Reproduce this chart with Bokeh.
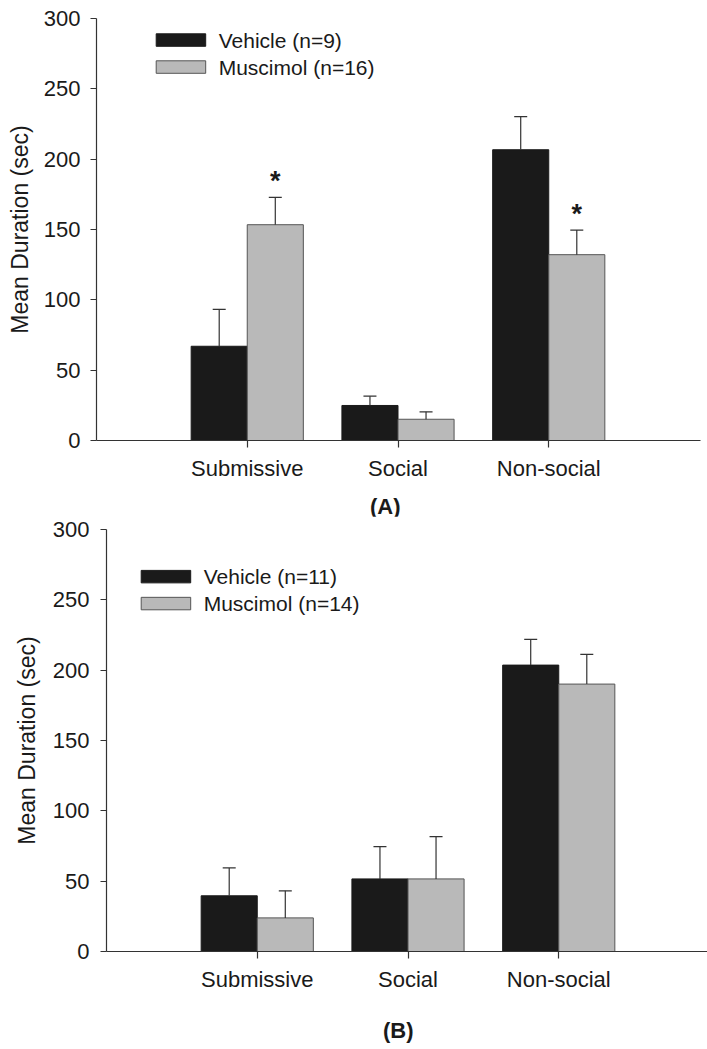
import numpy as np
from bokeh.plotting import figure
from bokeh.models import Range1d, Div, Spacer
from bokeh.layouts import column, row
from bokeh.embed import file_html
from bokeh.resources import INLINE
from bokeh.core.properties import value

# ---------------- data ----------------
categories = ["Submissive", "Social", "Non-social"]
y_ticks = [0, 50, 100, 150, 200, 250, 300]

a_vehicle_mean = [67.0, 24.9, 206.7]
a_vehicle_sem = [26.2, 6.6, 23.6]
a_muscimol_mean = [153.4, 15.1, 132.1]
a_muscimol_sem = [19.4, 5.3, 17.5]
a_muscimol_sig = [True, False, True]
a_labels = ["Vehicle (n=9)", "Muscimol (n=16)"]

b_vehicle_mean = [39.6, 51.6, 203.6]
b_vehicle_sem = [19.8, 23.0, 18.3]
b_muscimol_mean = [23.9, 51.6, 190.1]
b_muscimol_sem = [19.2, 30.1, 21.1]
b_muscimol_sig = [False, False, False]
b_labels = ["Vehicle (n=11)", "Muscimol (n=14)"]

# ---------------- style ----------------
FONT = "Liberation Sans"
FS = "22px"
LEG_FS = "21px"
YLAB_FS = "23px"
TXT = "#1a1a1a"
BLACK = "#1a1a1a"
GRAY = "#b9b9b9"
EDGE = "#555555"
ERR = "#333333"
PAGE_W = 707
UNIT_PX = 150.75
BAR_W = 0.372
CAP_PX = 13
LEFT = 96


def panel(veh_m, veh_s, mus_m, mus_s, sig, labels, x_off,
          fig_top, fig_h, top_pad, frame_h, right_pad,
          tick_std, lab_std, leg_x, leg_y):
    width = PAGE_W - x_off
    frame_w = width - LEFT - right_pad
    x_end = frame_w / UNIT_PX
    bottom_pad = fig_h - top_pad - frame_h
    p = figure(width=width, height=fig_h, output_backend="svg", toolbar_location=None,
               x_range=Range1d(0, x_end), y_range=Range1d(0, 300),
               min_border_left=LEFT, min_border_right=right_pad,
               min_border_top=top_pad, min_border_bottom=bottom_pad)
    p.outline_line_color = None
    p.grid.visible = False
    p.background_fill_color = "white"
    p.border_fill_color = "white"

    frame_left_page = x_off + LEFT
    frame_bottom_page = fig_top + top_pad + frame_h
    sy = frame_h / 300.0

    def dx(px):
        return (px - frame_left_page) / UNIT_PX

    def dy(py):
        return (frame_bottom_page - py) / sy

    idx = np.arange(1, len(categories) + 1, dtype=float)
    xv = idx - BAR_W / 2
    xm = idx + BAR_W / 2
    cap = CAP_PX / UNIT_PX

    p.vbar(x=xv, top=veh_m, width=BAR_W, bottom=0, fill_color=BLACK, line_color=BLACK, line_width=1)
    p.vbar(x=xm, top=mus_m, width=BAR_W, bottom=0, fill_color=GRAY, line_color=EDGE, line_width=1)

    for xs, m, s in ((xv, veh_m, veh_s), (xm, mus_m, mus_s)):
        m = np.array(m); s = np.array(s)
        p.segment(x0=xs, y0=m, x1=xs, y1=m + s, line_color=ERR, line_width=1.2)
        p.segment(x0=xs - cap / 2, y0=m + s, x1=xs + cap / 2, y1=m + s, line_color=ERR, line_width=1.2)

    sx = [x for x, f in zip(xm, sig) if f]
    sy_ = [m + s for m, s, f in zip(mus_m, mus_s, sig) if f]
    if sx:
        p.text(x=sx, y=sy_, text=["*"] * len(sx), text_align="center", text_baseline="alphabetic",
               y_offset=-16, text_font=value(FONT), text_font_style="bold",
               text_font_size="27px", text_color=TXT)

    # legend (drawn as boxes + text)
    for i, (lab, fc, lc) in enumerate(zip(labels, [BLACK, GRAY], [BLACK, EDGE])):
        top = leg_y + i * 27
        p.quad(left=[dx(leg_x)], right=[dx(leg_x + 49.5)], top=[dy(top)], bottom=[dy(top + 12.5)],
               fill_color=fc, line_color=lc, line_width=1)
        p.text(x=[dx(leg_x + 62.5)], y=[dy(top + 6.5)], text=[lab], text_baseline="middle",
               text_align="left", text_font=value(FONT), text_font_size=LEG_FS, text_color=TXT)

    # axes
    p.xaxis.ticker = list(idx)
    p.xaxis.major_label_overrides = {float(i): c for i, c in zip(idx, categories)}
    p.yaxis.ticker = y_ticks
    p.yaxis.axis_label = "Mean Duration (sec)"
    for ax in (p.xaxis, p.yaxis):
        ax.axis_line_color = ERR
        ax.axis_line_width = 1.2
        ax.major_tick_line_color = ERR
        ax.major_tick_line_width = 1.2
        ax.major_tick_in = 0
        ax.minor_tick_line_color = None
        ax.major_label_text_font = FONT
        ax.major_label_text_font_size = FS
        ax.major_label_text_color = TXT
        ax.axis_label_text_font = FONT
        ax.axis_label_text_font_size = YLAB_FS
        ax.axis_label_text_font_style = "normal"
        ax.axis_label_text_color = TXT
    p.xaxis.major_tick_out = 7
    p.yaxis.major_tick_out = 6
    p.xaxis.major_label_standoff = 8
    p.yaxis.major_label_standoff = tick_std
    p.yaxis.axis_label_standoff = lab_std
    return p


def letter_div(letter, height, left, center):
    html = ('<div style="position:relative;width:%dpx;height:%dpx;">'
            '<span style="position:absolute;left:%dpx;top:%dpx;line-height:22px;'
            'font-family:\'Liberation Sans\';font-weight:bold;font-size:22px;color:%s;">%s</span></div>'
            % (PAGE_W, height, left, center - 11, TXT, letter))
    return Div(text=html, width=PAGE_W, height=height, margin=0)


pA = panel(a_vehicle_mean, a_vehicle_sem, a_muscimol_mean, a_muscimol_sem, a_muscimol_sig,
           a_labels, x_off=0, fig_top=0, fig_h=485, top_pad=18, frame_h=422, right_pad=7,
           tick_std=10, lab_std=8, leg_x=155.7, leg_y=33.3)
dA = letter_div("(A)", 31, 370, 507 - 485)
B_OFF = 10
pB = panel(b_vehicle_mean, b_vehicle_sem, b_muscimol_mean, b_muscimol_sem, b_muscimol_sig,
           b_labels, x_off=B_OFF, fig_top=516, fig_h=478, top_pad=13, frame_h=423, right_pad=0,
           tick_std=11, lab_std=10, leg_x=140.7, leg_y=570)
dB = letter_div("(B)", 47, 383, 1031 - 994)

rowB = row(Spacer(width=B_OFF, height=478, margin=0), pB, spacing=0)
layout = column(pA, dA, rowB, dB, spacing=0)
open("out.html", "w").write(file_html(layout, INLINE))
